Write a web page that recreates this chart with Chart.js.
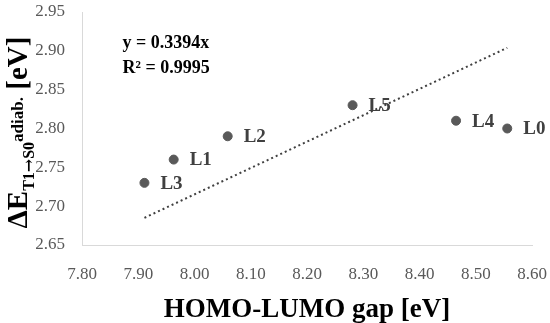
<!DOCTYPE html>
<html>
<head>
<meta charset="utf-8">
<script src="https://cdn.jsdelivr.net/npm/chart.js@4"></script>
<style>
html,body{margin:0;padding:0;background:#fff;}
#wrap{width:550px;height:323px;position:relative;}
</style>
</head>
<body>
<div id="wrap"><canvas id="c" width="550" height="323"></canvas></div>
<script>
const labels = ['L0','L1','L2','L3','L4','L5'];
const gapValues = [8.556, 7.963, 8.059, 7.911, 8.465, 8.281];
const energyValues = [2.80, 2.76, 2.79, 2.73, 2.81, 2.83];
const trendSlope = 0.3394;
const trendX = [7.911, 8.556];
const xTicks = [7.80, 7.90, 8.00, 8.10, 8.20, 8.30, 8.40, 8.50, 8.60];
const yTicks = [2.65, 2.70, 2.75, 2.80, 2.85, 2.90, 2.95];
const equationLines = ['y = 0.3394x', 'R² = 0.9995'];

const SERIF = "'Liberation Serif', 'Times New Roman', serif";

const points = labels.map((l, i) => ({x: gapValues[i], y: energyValues[i]}));
const trend = trendX.map(x => ({x: x, y: trendSlope * x}));

const pointLabelPlugin = {
  id: 'pointLabels',
  afterDatasetsDraw(chart) {
    const ctx = chart.ctx;
    const meta = chart.getDatasetMeta(1);
    ctx.save();
    ctx.font = "bold 19px " + SERIF;
    ctx.fillStyle = '#404040';
    ctx.textAlign = 'left';
    ctx.textBaseline = 'middle';
    meta.data.forEach((el, i) => {
      ctx.fillText(labels[i], el.x + 16, el.y + 1);
    });
    ctx.font = "bold 18px " + SERIF;
    ctx.fillStyle = '#000';
    ctx.textBaseline = 'alphabetic';
    const x0 = chart.scales.x.getPixelForValue(7.872);
    ctx.fillText(equationLines[0], x0, 48);
    ctx.fillText(equationLines[1], x0, 73);
    ctx.restore();
  }
};

const yTitlePlugin = {
  id: 'yTitle',
  afterDraw(chart) {
    const ctx = chart.ctx;
    const area = chart.chartArea;
    const parts = [
      {t: 'ΔE', f: "bold 29px " + SERIF, dy: 0},
      {t: 'T1', f: "bold 16px " + SERIF, dy: 7},
      {t: '→', f: "bold 16px 'DejaVu Serif'", dy: 7},
      {t: 'S0', f: "bold 16px " + SERIF, dy: 7},
      {t: 'adiab.', f: "bold 17px " + SERIF, dy: -4},
      {t: ' [eV]', f: "bold 29px " + SERIF, dy: 0}
    ];
    ctx.save();
    let total = 0;
    parts.forEach(p => { ctx.font = p.f; p.w = ctx.measureText(p.t).width; total += p.w; });
    const cy = (area.top + area.bottom) / 2 + 4;
    ctx.translate(27, cy);
    ctx.rotate(-Math.PI / 2);
    ctx.fillStyle = '#000';
    ctx.textBaseline = 'alphabetic';
    ctx.textAlign = 'left';
    let x = -total / 2;
    parts.forEach(p => { ctx.font = p.f; ctx.fillText(p.t, x, p.dy); x += p.w; });
    ctx.restore();
  }
};

new Chart(document.getElementById('c'), {
  type: 'scatter',
  data: {
    datasets: [
      {
        type: 'line',
        data: trend,
        borderColor: '#404040',
        borderWidth: 2,
        borderDash: [2, 3],
        pointRadius: 0,
        fill: false
      },
      {
        data: points,
        backgroundColor: '#595959',
        borderColor: '#595959',
        pointRadius: 4.5,
        pointHoverRadius: 4.5
      }
    ]
  },
  options: {
    responsive: false,
    animation: false,
    devicePixelRatio: 1,
    layout: {padding: {left: 0, right: 18, top: 12, bottom: 0}},
    plugins: {legend: {display: false}, tooltip: {enabled: false}},
    scales: {
      x: {
        type: 'linear',
        min: 7.8, max: 8.6,
        afterBuildTicks(s) { s.ticks = xTicks.map(v => ({value: v})); },
        afterFit(s) { s.height = 78; s.paddingLeft = 0; s.paddingRight = 0; },
        grid: {display: false, drawTicks: false},
        border: {display: true, color: '#d9d9d9', width: 1},
        ticks: {
          callback: v => v.toFixed(2),
          color: '#595959',
          font: {family: SERIF, size: 17},
          padding: 19,
          maxRotation: 0,
          autoSkip: false
        },
        title: {
          display: true,
          text: 'HOMO-LUMO gap [eV]',
          color: '#000',
          font: {family: SERIF, size: 27, weight: 'bold'},
          padding: {top: 0, bottom: -3}
        }
      },
      y: {
        type: 'linear',
        min: 2.65, max: 2.95,
        afterBuildTicks(s) { s.ticks = yTicks.map(v => ({value: v})); },
        afterFit(s) { s.width = 82; s.paddingTop = 0; s.paddingBottom = 0; },
        grid: {display: false, drawTicks: false},
        border: {display: true, color: '#d9d9d9', width: 1},
        ticks: {
          callback: v => v.toFixed(2),
          color: '#595959',
          font: {family: SERIF, size: 17},
          padding: 17,
          autoSkip: false
        }
      }
    }
  },
  plugins: [pointLabelPlugin, yTitlePlugin]
});
</script>
</body>
</html>
